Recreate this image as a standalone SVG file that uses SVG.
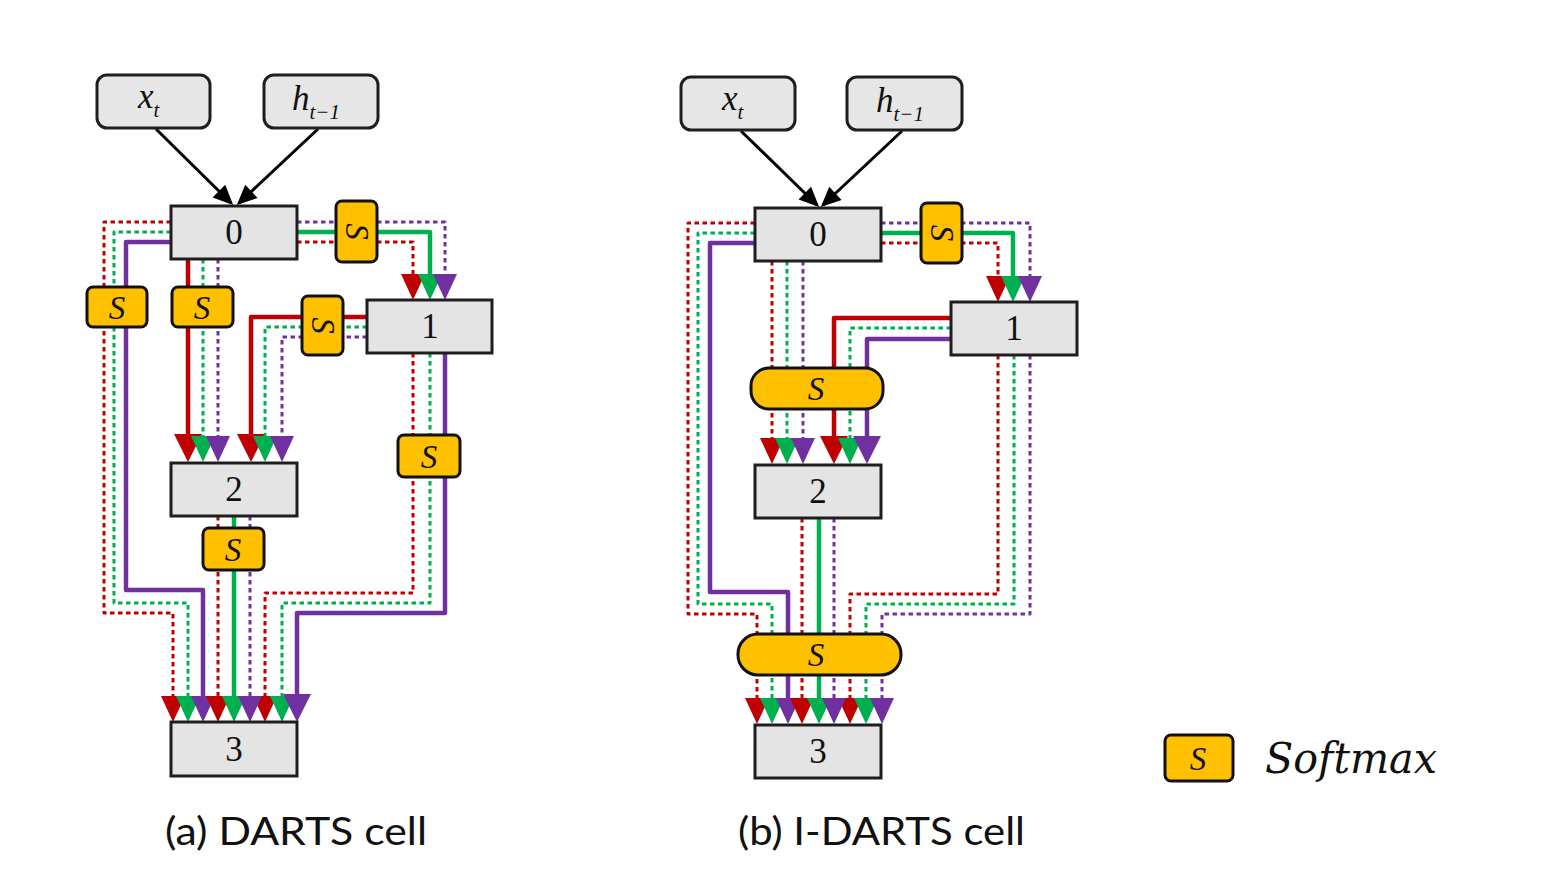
<svg xmlns="http://www.w3.org/2000/svg" width="1544" height="886" viewBox="0 0 1544 886">
<defs>
<style>
.node{fill:#e4e4e4;stroke:#1e1e1e;stroke-width:3}
.inp{fill:#e6e6e6;stroke:#1e1e1e;stroke-width:3}
.sm{fill:#ffc000;stroke:#111;stroke-width:3}
.lbl{font-family:"Liberation Serif",serif;font-size:35px;fill:#111;text-anchor:middle}
.it{font-family:"Liberation Serif",serif;font-style:italic;fill:#111}
.s{font-family:"Liberation Serif",serif;font-style:italic;font-size:33px;fill:#111;text-anchor:middle}
.cap{font-family:"Lato","Open Sans",sans-serif;font-size:39px;fill:#111}
.c{fill:none;stroke-linejoin:round}
.d{stroke-width:3;stroke-dasharray:4.5 3.5}
.w{stroke-width:4.5}
.r{stroke:#c00000}
.g{stroke:#00b050}
.p{stroke:#7030a0}
.blk{fill:none;stroke:#000;stroke-width:3}
</style>
<marker id="mr" viewBox="0 -12 26 24" markerWidth="26" markerHeight="24" refX="0" refY="0" orient="auto" markerUnits="userSpaceOnUse" overflow="visible"><path d="M0,-12 L26,0 L0,12 Z" fill="#c00000"/></marker>
<marker id="mg" viewBox="0 -12 26 24" markerWidth="26" markerHeight="24" refX="0" refY="0" orient="auto" markerUnits="userSpaceOnUse" overflow="visible"><path d="M0,-12 L26,0 L0,12 Z" fill="#00b050"/></marker>
<marker id="mp" viewBox="0 -12 26 24" markerWidth="26" markerHeight="24" refX="0" refY="0" orient="auto" markerUnits="userSpaceOnUse" overflow="visible"><path d="M0,-12 L26,0 L0,12 Z" fill="#7030a0"/></marker>
<marker id="mrL" viewBox="0 -14 28 28" markerWidth="28" markerHeight="28" refX="0" refY="0" orient="auto" markerUnits="userSpaceOnUse" overflow="visible"><path d="M0,-14 L28,0 L0,14 Z" fill="#c00000"/></marker>
<marker id="mpL" viewBox="0 -14 28 28" markerWidth="28" markerHeight="28" refX="0" refY="0" orient="auto" markerUnits="userSpaceOnUse" overflow="visible"><path d="M0,-14 L28,0 L0,14 Z" fill="#7030a0"/></marker>
<marker id="mb" viewBox="0 -9 20 18" markerWidth="20" markerHeight="18" refX="17" refY="0" orient="auto" markerUnits="userSpaceOnUse" overflow="visible"><path d="M0,-9 L20,0 L0,9 Z" fill="#000"/></marker>
</defs>
<rect width="1544" height="886" fill="#fff"/>

<g id="connectors">
<!-- left diagram -->
<path class="blk" d="M156,129 L231,203" marker-end="url(#mb)"/>
<path class="blk" d="M318,129 L239,203" marker-end="url(#mb)"/>
<path class="c d r" d="M171,222 H104 V613 H173 V696" marker-end="url(#mr)"/>
<path class="c d g" d="M171,232 H114 V603 H188 V696" marker-end="url(#mg)"/>
<path class="c w p" d="M171,242 H126 V590 H203 V696" marker-end="url(#mp)"/>
<path class="c w r" d="M188,259 V434" marker-end="url(#mrL)"/>
<path class="c d g" d="M203,259 V436" marker-end="url(#mg)"/>
<path class="c d p" d="M218,259 V436" marker-end="url(#mp)"/>
<path class="c d r" d="M297,242 H413 V274" marker-end="url(#mr)"/>
<path class="c w g" d="M297,232 H430 V274" marker-end="url(#mg)"/>
<path class="c d p" d="M297,222 H445 V274" marker-end="url(#mp)"/>
<path class="c w r" d="M367,317 H251 V434" marker-end="url(#mrL)"/>
<path class="c d g" d="M367,327 H265 V436" marker-end="url(#mg)"/>
<path class="c d p" d="M367,337 H282 V436" marker-end="url(#mp)"/>
<path class="c d r" d="M413,353 V593 H265 V696" marker-end="url(#mr)"/>
<path class="c d g" d="M430,353 V603 H282 V696" marker-end="url(#mg)"/>
<path class="c w p" d="M445,353 V613 H297 V694" marker-end="url(#mpL)"/>
<path class="c d r" d="M218,516 V696" marker-end="url(#mr)"/>
<path class="c w g" d="M234,516 V696" marker-end="url(#mg)"/>
<path class="c d p" d="M250,516 V696" marker-end="url(#mp)"/>
<!-- right diagram -->
<path class="blk" d="M741,131 L817,205" marker-end="url(#mb)"/>
<path class="blk" d="M902,131 L823,205" marker-end="url(#mb)"/>
<path class="c d r" d="M755,223 H688 V614 H757 V698" marker-end="url(#mr)"/>
<path class="c d g" d="M755,233 H698 V604 H772 V698" marker-end="url(#mg)"/>
<path class="c w p" d="M755,243 H710 V592 H788 V698" marker-end="url(#mp)"/>
<path class="c d r" d="M772,261 V438" marker-end="url(#mr)"/>
<path class="c d g" d="M787,261 V438" marker-end="url(#mg)"/>
<path class="c d p" d="M803,261 V438" marker-end="url(#mp)"/>
<path class="c d r" d="M881,243 H998 V276" marker-end="url(#mr)"/>
<path class="c w g" d="M881,233 H1013 V276" marker-end="url(#mg)"/>
<path class="c d p" d="M881,223 H1030 V276" marker-end="url(#mp)"/>
<path class="c w r" d="M951,318 H834 V436" marker-end="url(#mrL)"/>
<path class="c d g" d="M951,328 H850 V438" marker-end="url(#mg)"/>
<path class="c w p" d="M951,339 H867 V436" marker-end="url(#mpL)"/>
<path class="c d r" d="M998,355 V594 H850 V698" marker-end="url(#mr)"/>
<path class="c d g" d="M1014,355 V604 H866 V698" marker-end="url(#mg)"/>
<path class="c d p" d="M1030,355 V614 H882 V698" marker-end="url(#mp)"/>
<path class="c d r" d="M802,518 V698" marker-end="url(#mr)"/>
<path class="c w g" d="M819,518 V698" marker-end="url(#mg)"/>
<path class="c d p" d="M834,518 V698" marker-end="url(#mp)"/>
</g>

<!-- left diagram nodes -->
<g id="a-xt"><rect class="inp" x="97" y="75" width="113" height="53" rx="10"/><text class="it" x="138" y="108" font-size="35">x<tspan font-size="21" dy="9">t</tspan></text></g>
<g id="a-h"><rect class="inp" x="264" y="75" width="114" height="53" rx="10"/><text class="it" x="292" y="110" font-size="35">h<tspan font-size="21" dy="9">t−1</tspan></text></g>
<g id="a-n0"><rect class="node" x="171" y="206" width="126" height="53"/><text class="lbl" x="234" y="244">0</text></g>
<g id="a-n1"><rect class="node" x="367" y="300" width="125" height="53"/><text class="lbl" x="430" y="338">1</text></g>
<g id="a-n2"><rect class="node" x="171" y="463" width="126" height="53"/><text class="lbl" x="234" y="501">2</text></g>
<g id="a-n3"><rect class="node" x="171" y="722" width="126" height="54"/><text class="lbl" x="234" y="761">3</text></g>
<g id="a-s1"><rect class="sm" x="87" y="287" width="60" height="40" rx="6"/><text class="s" x="117" y="319">S</text></g>
<g id="a-s2"><rect class="sm" x="172" y="287" width="61" height="40" rx="6"/><text class="s" x="202" y="319">S</text></g>
<g id="a-s3"><rect class="sm" x="336" y="201" width="41" height="61" rx="6"/><text class="s" transform="translate(356.5,231.5) rotate(90)" x="0" y="11">S</text></g>
<g id="a-s4"><rect class="sm" x="302" y="296" width="41" height="59" rx="6"/><text class="s" transform="translate(322.5,325.5) rotate(90)" x="0" y="11">S</text></g>
<g id="a-s5"><rect class="sm" x="398" y="435" width="62" height="42" rx="6"/><text class="s" x="429" y="468">S</text></g>
<g id="a-s6"><rect class="sm" x="203" y="528" width="61" height="42" rx="6"/><text class="s" x="233" y="561">S</text></g>

<!-- right diagram nodes -->
<g id="b-xt"><rect class="inp" x="681" y="77" width="114" height="53" rx="10"/><text class="it" x="722" y="110" font-size="35">x<tspan font-size="21" dy="9">t</tspan></text></g>
<g id="b-h"><rect class="inp" x="847" y="77" width="115" height="53" rx="10"/><text class="it" x="876" y="112" font-size="35">h<tspan font-size="21" dy="9">t−1</tspan></text></g>
<g id="b-n0"><rect class="node" x="755" y="208" width="126" height="53"/><text class="lbl" x="818" y="246">0</text></g>
<g id="b-n1"><rect class="node" x="951" y="302" width="126" height="53"/><text class="lbl" x="1014" y="340">1</text></g>
<g id="b-n2"><rect class="node" x="755" y="465" width="126" height="53"/><text class="lbl" x="818" y="503">2</text></g>
<g id="b-n3"><rect class="node" x="755" y="725" width="126" height="53"/><text class="lbl" x="818" y="763">3</text></g>
<g id="b-s1"><rect class="sm" x="921" y="203" width="41" height="60" rx="6"/><text class="s" transform="translate(941.5,233) rotate(90)" x="0" y="11">S</text></g>
<g id="b-s2"><rect class="sm" x="751" y="368" width="132" height="41" rx="18"/><text class="s" x="816" y="400">S</text></g>
<g id="b-s3"><rect class="sm" x="738" y="634" width="163" height="41" rx="20"/><text class="s" x="816" y="666">S</text></g>

<!-- legend -->
<g id="legend"><rect class="sm" x="1165" y="735" width="68" height="46" rx="6"/><text class="s" x="1198" y="770">S</text><text class="it" x="1265" y="773" font-size="42" textLength="172" lengthAdjust="spacingAndGlyphs" style="font-family:'DejaVu Serif',serif">Softmax</text></g>

<!-- captions -->
<text class="cap" x="165" y="845" textLength="262" lengthAdjust="spacingAndGlyphs">(a) DARTS cell</text>
<text class="cap" x="738" y="845" textLength="287" lengthAdjust="spacingAndGlyphs">(b) I-DARTS cell</text>
</svg>
